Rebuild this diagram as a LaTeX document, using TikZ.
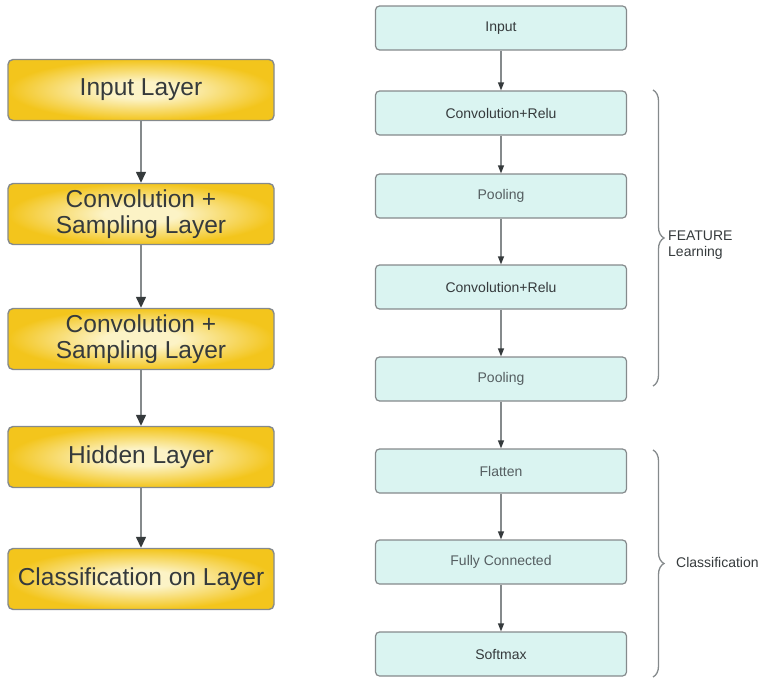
\documentclass[tikz,border=0pt]{standalone}
\usepackage{fontspec}
\setmainfont{Liberation Sans}
\usetikzlibrary{calc, positioning}
\usetikzlibrary{arrows.meta}
\usetikzlibrary{decorations.pathreplacing}

\definecolor{goldedge}{HTML}{F3C51C}
\definecolor{goldmid}{HTML}{FCF3C6}
\definecolor{mint}{HTML}{DAF4F1}
\definecolor{boxline}{HTML}{858A8C}
\definecolor{inkdark}{HTML}{353A3C}
\definecolor{inkgray}{HTML}{555E61}

\pgfdeclareradialshading{goldglow}{\pgfpoint{0bp}{0bp}}{%
  color(0bp)=(goldmid); color(7bp)=(goldmid);
  color(25bp)=(goldedge); color(50bp)=(goldedge)}

\tikzset{
  layerbox/.style={draw=boxline, line width=1.4pt, rounded corners=5pt,
    shading=goldglow,
    minimum width=266pt, minimum height=61pt, align=center,
    text=inkdark, font=\fontsize{24.5}{26}\selectfont},
  stagebox/.style={draw=boxline, line width=1.2pt, rounded corners=4pt,
    fill=mint, minimum width=251pt, minimum height=44pt,
    text=inkdark, font=\fontsize{14}{16}\selectfont},
  lightbox/.style={stagebox, text=inkgray},
  bigarrow/.style={draw=boxline, line width=1.4pt,
    -{Triangle[length=11pt, width=10pt, color=inkdark]}},
  smallarrow/.style={draw=boxline, line width=1.2pt,
    -{Triangle[length=8pt, width=6pt, color=inkdark]}},
  curly/.style={draw=boxline, line width=1.3pt,
    decorate, decoration={brace, amplitude=11pt}},
  sidelabel/.style={anchor=west, align=left, inner sep=0pt,
    text=inkdark, font=\fontsize{14}{16}\selectfont}
}

\begin{document}
\begin{tikzpicture}[x=1pt, y=-1pt]
\useasboundingbox (0,0) rectangle (763,680);

% left column
\node[layerbox] (inl) at (141,90) {Input Layer};
\node[layerbox] (cs1) at (141,214) {Convolution +\\Sampling Layer};
\node[layerbox] (cs2) at (141,339) {Convolution +\\Sampling Layer};
\node[layerbox] (hid) at (141,457) {Hidden Layer};
\node[layerbox] (cls) at (141,579) {Classification on Layer};

\draw[bigarrow] (inl) -- (cs1);
\draw[bigarrow] (cs1) -- (cs2);
\draw[bigarrow] (cs2) -- (hid);
\draw[bigarrow] (hid) -- (cls);

% right column
\node[stagebox] (inp) at (501,28) {Input};
\node[stagebox] (cr1) at (501,113) {Convolution+Relu};
\node[lightbox] (po1) at (501,196) {Pooling};
\node[stagebox] (cr2) at (501,287) {Convolution+Relu};
\node[lightbox] (po2) at (501,379) {Pooling};
\node[lightbox] (fla) at (501,471) {Flatten};
\node[lightbox] (fc) at (501,562) {Fully Connected};
\node[stagebox] (sm) at (501,654) {Softmax};

\draw[smallarrow] (inp) -- (cr1);
\draw[smallarrow] (cr1) -- (po1);
\draw[smallarrow] (po1) -- (cr2);
\draw[smallarrow] (cr2) -- (po2);
\draw[smallarrow] (po2) -- (fla);
\draw[smallarrow] (fla) -- (fc);
\draw[smallarrow] (fc) -- (sm);

% braces
\coordinate (featTop) at (653,90);
\coordinate (featBot) at (653,386);
\coordinate (clsTop) at (653,450);
\coordinate (clsBot) at (653,677);

\draw[curly] (featTop) -- (featBot);
\draw[curly] (clsTop) -- (clsBot);

\node[sidelabel] (featlab) at (668,245) {FEATURE\\Learning};
\node[sidelabel] (clslab) at (676,562) {Classification};

\end{tikzpicture}
\end{document}
